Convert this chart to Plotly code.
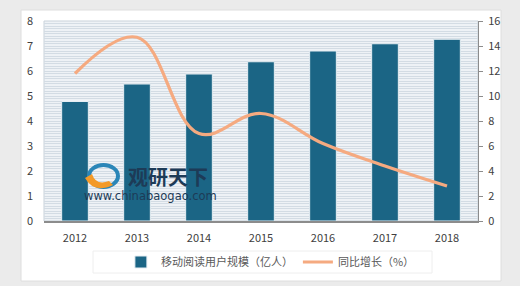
import plotly.graph_objects as go

years = ["2012", "2013", "2014", "2015", "2016", "2017", "2018"]
users = [4.78, 5.48, 5.88, 6.37, 6.80, 7.09, 7.27]
growth = [11.8, 14.7, 7.0, 8.6, 6.2, 4.4, 2.8]
left_ticks = [0, 1, 2, 3, 4, 5, 6, 7, 8]
right_ticks = [0, 2, 4, 6, 8, 10, 12, 14, 16]

font = "Noto Sans CJK SC"
fig = go.Figure()
fig.add_trace(go.Bar(
    x=years, y=users, name="移动阅读用户规模（亿人）",
    marker=dict(color="#1b6585", line=dict(color="#e6eef3", width=1)),
    width=0.43,
))
fig.add_trace(go.Scatter(
    x=years, y=growth, name="同比增长（%）", yaxis="y2", mode="lines",
    line=dict(color="#f5aa80", width=3.2, shape="spline", smoothing=1.1),
))

# plot area 44..478 x, 21..221 y
L, R, T, B = 44, 478, 21, 221
W, H = R - L, B - T
def px(x): return (x - L) / W
def py(y): return (B - y) / H

shapes = [
    dict(type="rect", xref="paper", yref="paper", x0=px(21), x1=px(501), y0=py(10), y1=py(281),
         fillcolor="#ffffff", line=dict(color="#dedede", width=1), layer="below"),
    dict(type="rect", xref="paper", yref="paper", x0=0, x1=1, y0=0, y1=1,
         fillcolor="#eef2f6", line=dict(color="#c9d2da", width=1), layer="below"),
    dict(type="rect", xref="paper", yref="paper", x0=px(93), x1=px(432), y0=py(251), y1=py(273),
         fillcolor="#ffffff", line=dict(color="#eeeeee", width=1), layer="below"),
]

fig.update_layout(
    width=520, height=286,
    margin=dict(l=L, r=520 - R, t=T, b=286 - B, autoexpand=False),
    paper_bgcolor="#ebebeb", plot_bgcolor="#eef2f6",
    font=dict(family=font, size=11, color="#404040"),
    shapes=shapes,
    showlegend=True,
    legend=dict(orientation="h", xref="container", yref="container",
                x=0.52, xanchor="center", y=1 - 262 / 286, yanchor="middle",
                bgcolor="rgba(0,0,0,0)", font=dict(size=11, color="#595959"),
                tracegroupgap=0, itemwidth=30),
    xaxis=dict(showgrid=False, showline=True, linecolor="#8c8c8c", linewidth=1.5,
               ticks="", ticklabelstandoff=6, tickfont=dict(size=11, color="#404040")),
    yaxis=dict(range=[0, 8], tickvals=left_ticks, showgrid=False, showline=False, zeroline=False,
               ticks="", ticklabelstandoff=10, tickfont=dict(size=11, color="#404040"),
               minor=dict(dtick=0.1, showgrid=True, gridcolor="#d3dce4", gridwidth=1)),
    yaxis2=dict(range=[0, 16], tickvals=right_ticks, overlaying="y", side="right",
                showgrid=False, showline=True, linecolor="#8c8c8c", linewidth=1,
                ticks="outside", ticklen=4, tickcolor="#8c8c8c", zeroline=False,
                ticklabelstandoff=3, tickfont=dict(size=11, color="#404040")),
    bargap=0.57,
)

fig.add_annotation(xref="paper", yref="paper", x=px(126), y=py(176), text="<b>观研天下</b>",
                   showarrow=False, xanchor="left", yanchor="middle",
                   font=dict(family=font, size=20, color="#1d3b57"))
fig.add_annotation(xref="paper", yref="paper", x=px(82), y=py(196), text="www.chinabaogao.com",
                   showarrow=False, xanchor="left", yanchor="middle",
                   font=dict(family="DejaVu Sans", size=11.5, color="#1d3b57"))
fig.add_shape(type="circle", xref="paper", yref="paper", x0=px(89), x1=px(118), y0=py(165), y1=py(187),
              line=dict(color="#2a86b8", width=4), fillcolor="rgba(0,0,0,0)")
fig.add_shape(type="path", xref="paper", yref="paper",
              path=f"M {px(85)},{py(178)} Q {px(94)},{py(194)} {px(113)},{py(185)} L {px(109)},{py(181)} Q {px(96)},{py(186)} {px(92)},{py(174)} Z",
              fillcolor="#f39a28", line=dict(width=0))

fig.write_html("out.html", config={"displayModeBar": False},
               post_script="document.body.style.margin='0';")
